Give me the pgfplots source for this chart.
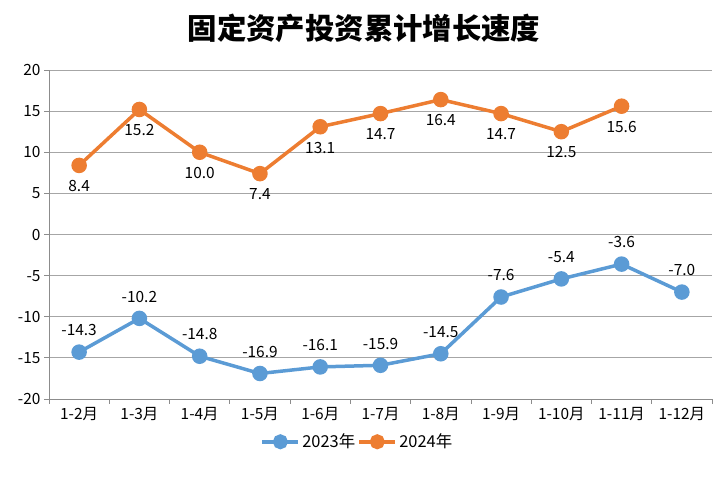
\documentclass[border=0pt]{standalone}
\usepackage{pgfplots}
\pgfplotsset{compat=1.18}
\usepackage{fontspec}
\setmainfont{Noto Sans CJK SC}
\definecolor{cA}{HTML}{5B9BD5}
\definecolor{cB}{HTML}{ED7D31}
\definecolor{gridc}{HTML}{A6A6A6}
\definecolor{axc}{HTML}{8C8C8C}
\begin{document}
\begin{tikzpicture}
\path[use as bounding box] (0,0) rectangle (726bp,486bp);
\node[font=\fontsize{29.5}{32}\selectfont\bfseries] at (364bp,458bp) {固定资产投资累计增长速度};
\begin{axis}[
  at={(49bp,87bp)}, anchor=south west,
  width=663bp, height=329bp, scale only axis,
  xmin=-0.5, xmax=10.5, ymin=-20, ymax=20,
  axis x line=bottom, axis y line=left,
  axis line style={draw=axc, line width=0.8pt, -},
  ytick={-20,-15,...,20},
  yticklabels={-20,-15,-10,-5,0,5,10,15,20},
  ymajorgrids, grid style={draw=gridc, line width=0.8pt},
  xtick={-0.5,0.5,...,10.5},
  x tick label as interval,
  xticklabels={1-2月,1-3月,1-4月,1-5月,1-6月,1-7月,1-8月,1-9月,1-10月,1-11月,1-12月},
  tick align=outside, major tick length=5bp,
  tick style={draw=axc, line width=0.8pt},
  tick label style={font=\fontsize{15.5}{17}\selectfont},
  clip=false,
  point meta=explicit symbolic,
  nodes near coords style={font=\fontsize{15.5}{17}\selectfont, text=black},
  legend style={at={(0.465,-0.13)}, anchor=center, draw=none, fill=none,
    legend columns=2, font=\fontsize{16.5}{18}\selectfont,
    /tikz/every even column/.append style={column sep=0bp},
    /tikz/every odd column/.append style={column sep=0bp}},
  legend cell align=left,
  legend image code/.code={\draw[line width=4bp, mark size=5.5bp, mark repeat=2, mark phase=2] plot coordinates {(0bp,0bp) (18bp,0bp) (36bp,0bp)};},
]
\addplot[color=cA, line width=3.5bp, mark=*, mark size=6bp,
  nodes near coords, nodes near coords align={above}, every node near coord/.append style={yshift=11bp}]
  coordinates {(0,-14.3)[-14.3] (1,-10.2)[-10.2] (2,-14.8)[-14.8] (3,-16.9)[-16.9] (4,-16.1)[-16.1] (5,-15.9)[-15.9] (6,-14.5)[-14.5] (7,-7.6)[-7.6] (8,-5.4)[-5.4] (9,-3.6)[-3.6] (10,-7.0)[-7.0]};
\addlegendentry{2023年}
\addplot[color=cB, line width=3.5bp, mark=*, mark size=6bp,
  nodes near coords, nodes near coords align={below}, every node near coord/.append style={yshift=-10bp}]
  coordinates {(0,8.4)[8.4] (1,15.2)[15.2] (2,10.0)[10.0] (3,7.4)[7.4] (4,13.1)[13.1] (5,14.7)[14.7] (6,16.4)[16.4] (7,14.7)[14.7] (8,12.5)[12.5] (9,15.6)[15.6]};
\addlegendentry{2024年}
\end{axis}
\end{tikzpicture}
\end{document}
